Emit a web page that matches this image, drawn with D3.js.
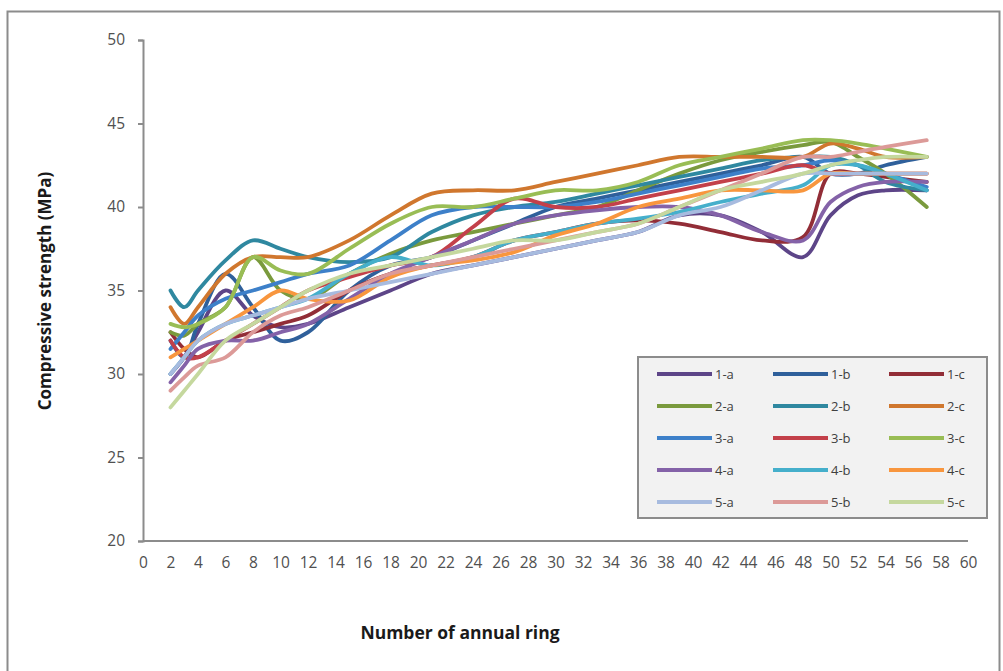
<!DOCTYPE html>
<html>
<head>
<meta charset="utf-8">
<script src="https://cdn.jsdelivr.net/npm/d3@7"></script>
<style>
  body { margin: 0; background: #fff; }
  #chart { width: 1003px; height: 671px; }
  text { font-family: "Open Sans", "Noto Sans", sans-serif; }
</style>
</head>
<body>
<div id="chart"></div>
<script>
const rings = [2, 3, 4, 6, 8, 10, 12, 15, 18, 21, 24, 27, 30, 33, 36, 39, 42, 45, 48, 50, 52, 54, 57];

const s1a = [30, 31, 32.5, 35, 33.5, 32.8, 33, 34, 35, 36, 36.5, 37, 37.5, 38, 38.5, 39.5, 39.5, 38.5, 37, 39.5, 40.7, 41, 41];
const s1b = [32, 31, 33, 36, 34, 32, 32.5, 35, 36.5, 37, 38, 39, 40, 40.5, 41, 41.5, 42, 42.5, 43, 42, 42, 42.5, 43];
const s1c = [32.5, 31.5, 31, 32, 32.5, 33, 33.5, 35, 36, 36.5, 37, 38, 38.5, 39, 39.2, 39, 38.5, 38, 38.2, 42, 42, 41.8, 41.5];
const s2a = [32.5, 32.3, 33, 34, 37, 35, 34.5, 36, 37.2, 38, 38.5, 39, 39.5, 40, 41, 42, 42.8, 43.3, 43.7, 43.9, 43, 42, 40];
const s2b = [35, 34, 35, 36.8, 38, 37.5, 37, 36.7, 37, 38.5, 39.5, 40, 40.3, 40.8, 41.3, 41.8, 42.3, 42.8, 43, 43, 42.5, 41.5, 41];
const s2c = [34, 33, 34, 36, 37, 37, 37, 38, 39.5, 40.8, 41, 41, 41.5, 42, 42.5, 43, 43, 43, 43, 43.8, 43.5, 43, 43];
const s3a = [31.5, 32.5, 33.5, 34.5, 35, 35.5, 36, 36.5, 38, 39.5, 40, 40, 40, 40.3, 40.8, 41.3, 41.8, 42.3, 42.5, 42.8, 42.5, 42, 41.2];
const s3b = [32, 31, 31, 32, 33, 34, 35, 35.8, 36.5, 37, 38.8, 40.5, 40, 40, 40.5, 41, 41.5, 42, 42.5, 42, 42, 42, 42];
const s3c = [33, 32.8, 33, 34, 37, 36.2, 36, 37.5, 39, 40, 40, 40.5, 41, 41, 41.5, 42.5, 43, 43.5, 44, 44, 43.8, 43.5, 43];
const s4a = [29.5, 30.5, 31.5, 32, 32, 32.5, 33, 34.5, 36, 37, 38, 39, 39.5, 39.8, 40, 40, 39.5, 38.5, 38, 40.3, 41.2, 41.5, 41.5];
const s4b = [30, 31, 32, 33, 33.5, 34, 34.5, 36, 37, 36.5, 37, 38, 38.5, 39, 39.3, 39.7, 40.3, 40.8, 41.3, 42.5, 42.5, 42, 41];
const s4c = [31, 31.5, 32, 33, 34, 35, 34.5, 34.4, 35.8, 36.5, 36.8, 37.3, 38.3, 39, 40, 40.5, 41, 41, 41, 42, 42, 42, 42];
const s5a = [30, 31, 32, 33, 33.5, 34, 34.5, 35, 35.5, 36, 36.5, 37, 37.5, 38, 38.5, 39.5, 40, 41, 42, 42, 42, 42, 42];
const s5b = [29, 29.8, 30.5, 31, 32.5, 33.5, 34, 35, 36, 36.5, 37, 37.5, 38, 38.5, 39, 40, 41, 42, 43, 43, 43.3, 43.6, 44];
const s5c = [28, 29, 30, 32, 33, 34, 35, 36, 36.5, 37, 37.5, 38, 38, 38.5, 39, 40, 41, 41.5, 42, 42.5, 42.8, 43, 43];

const names = ["1-a", "1-b", "1-c", "2-a", "2-b", "2-c", "3-a", "3-b", "3-c", "4-a", "4-b", "4-c", "5-a", "5-b", "5-c"];
const colors = ["#5d4588", "#2f609b", "#922d37", "#7a9a3d", "#2f88a0", "#d0772e",
                "#3d80c9", "#c3404a", "#99bd55", "#8462a8", "#45afcb", "#f8963e",
                "#a7bbdf", "#dc9a98", "#c5d89e"];
const values = [s1a, s1b, s1c, s2a, s2b, s2c, s3a, s3b, s3c, s4a, s4b, s4c, s5a, s5b, s5c];
const xTicks = d3.range(0, 61, 2);
const yTicks = [20, 25, 30, 35, 40, 45, 50];

const width = 1003, height = 671;
const svg = d3.select("#chart").append("svg")
  .attr("width", width).attr("height", height);

// outer frame
svg.append("rect")
  .attr("x", 7.5).attr("y", 11.5).attr("width", 992).attr("height", 680)
  .attr("fill", "#fff").attr("stroke", "#8c8c8c").attr("stroke-width", 2);

const x = d3.scaleLinear().domain([0, 60]).range([143, 968]);
const y = d3.scaleLinear().domain([20, 50]).range([541, 40]);

const gx = svg.append("g").attr("transform", "translate(0,541)")
  .call(d3.axisBottom(x).tickValues(xTicks).tickSize(0).tickPadding(16));
const gy = svg.append("g").attr("transform", "translate(143,0)")
  .call(d3.axisLeft(y).tickValues(yTicks).tickSize(5).tickPadding(13));
[gx, gy].forEach(g => {
  g.select(".domain").attr("stroke", "#8c8c8c").attr("stroke-width", 2);
  g.selectAll(".tick line").attr("stroke", "#8c8c8c").attr("stroke-width", 2);
  g.selectAll(".tick text").attr("fill", "#505050").style("font-size", "15.5px");
});
gx.select(".domain").attr("d", "M143,0H968");

const line = d3.line()
  .x((d, i) => x(rings[i]))
  .y(d => y(d))
  .curve(d3.curveCatmullRom.alpha(0.5));

svg.append("g").selectAll("path")
  .data(values)
  .join("path")
  .attr("fill", "none")
  .attr("stroke", (d, i) => colors[i])
  .attr("stroke-width", 3.8)
  .attr("stroke-linecap", "round")
  .attr("d", line);

// axis titles
svg.append("text")
  .attr("transform", "translate(51,291) rotate(-90)")
  .attr("text-anchor", "middle")
  .style("font-size", "17px").style("font-weight", "bold").attr("fill", "#1a1a1a")
  .text("Compressive strength (MPa)");
svg.append("text")
  .attr("x", 460).attr("y", 639)
  .attr("text-anchor", "middle")
  .style("font-size", "17.5px").style("font-weight", "bold").attr("fill", "#1a1a1a")
  .text("Number of annual ring");

// legend
const legend = svg.append("g");
legend.append("rect")
  .attr("x", 638).attr("y", 357).attr("width", 349).attr("height", 161)
  .attr("fill", "#f2f2f2").attr("stroke", "#8c8c8c").attr("stroke-width", 2);
const item = legend.selectAll("g.item")
  .data(names)
  .join("g")
  .attr("class", "item")
  .attr("transform", (d, i) => `translate(${657 + (i % 3) * 116},${374 + Math.floor(i / 3) * 32})`);
item.append("line")
  .attr("x1", 0).attr("x2", 55)
  .attr("stroke", (d, i) => colors[i]).attr("stroke-width", 3.8);
item.append("text")
  .attr("x", 58).attr("dy", "0.35em")
  .style("font-size", "13px").attr("fill", "#404040")
  .text(d => d);
</script>
</body>
</html>
